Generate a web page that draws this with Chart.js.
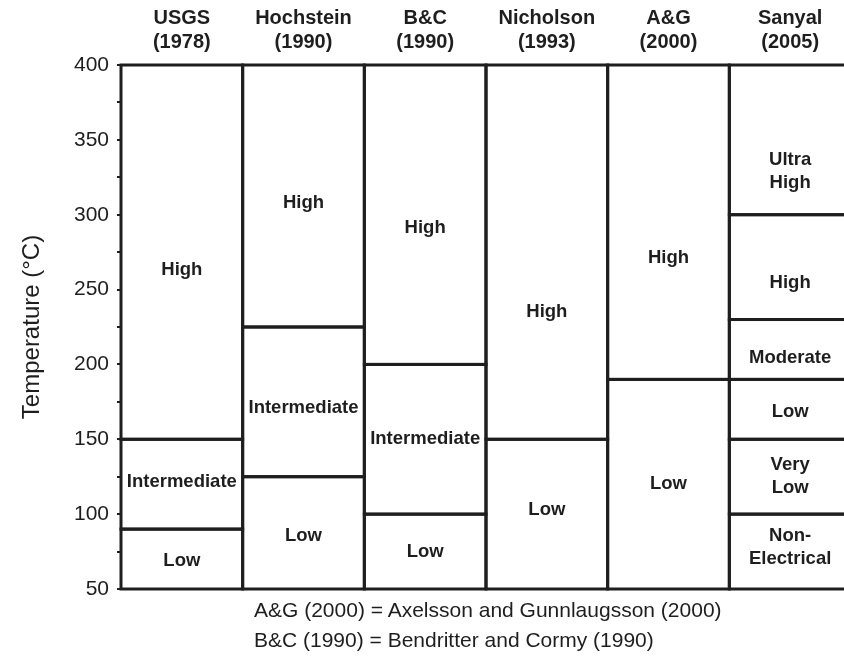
<!DOCTYPE html>
<html>
<head>
<meta charset="utf-8">
<script src="https://cdn.jsdelivr.net/npm/chart.js@4"></script>
<style>
  html, body { margin: 0; padding: 0; background: #fff; overflow: hidden; }
  #wrap { position: relative; width: 860px; height: 662px; }
  .note { position: absolute; left: 254px; font: 21px "Liberation Sans", Arial, sans-serif; color: #1e1e1e; white-space: nowrap; }
</style>
</head>
<body>
<div id="wrap">
  <canvas id="chart" width="860" height="662"></canvas>
  <div class="note" style="top:598px">A&amp;G (2000) = Axelsson and Gunnlaugsson (2000)</div>
  <div class="note" style="top:628px">B&amp;C (1990) = Bendritter and Cormy (1990)</div>
</div>
<script>
// column headers
const sources = ['USGS', 'Hochstein', 'B&C', 'Nicholson', 'A&G', 'Sanyal'];
const years = ['(1978)', '(1990)', '(1990)', '(1993)', '(2000)', '(2005)'];

// class boundaries in degrees C, bottom to top
const usgsBounds = [50, 90, 150, 400];
const hochsteinBounds = [50, 125, 225, 400];
const bcBounds = [50, 100, 200, 400];
const nicholsonBounds = [50, 150, 400];
const agBounds = [50, 190, 400];
const sanyalBounds = [50, 100, 150, 190, 230, 300, 400];

// class names, bottom to top
const usgsClasses = ['Low', 'Intermediate', 'High'];
const hochsteinClasses = ['Low', 'Intermediate', 'High'];
const bcClasses = ['Low', 'Intermediate', 'High'];
const nicholsonClasses = ['Low', 'High'];
const agClasses = ['Low', 'High'];
const sanyalClasses = ['Non-\nElectrical', 'Very\nLow', 'Low', 'Moderate', 'High', 'Ultra\nHigh'];

const yTicks = [50, 100, 150, 200, 250, 300, 350, 400];

const allBounds = [usgsBounds, hochsteinBounds, bcBounds, nicholsonBounds, agBounds, sanyalBounds];
const allClasses = [usgsClasses, hochsteinClasses, bcClasses, nicholsonClasses, agClasses, sanyalClasses];

const FONT = '"Liberation Sans", Arial, sans-serif';
const INK = '#1e1e1e';

// one dataset per level (bottom segment, second segment, ...)
const levels = Math.max(...allClasses.map(c => c.length));
const datasets = [];
for (let i = 0; i < levels; i++) {
    datasets.push({
        data: allBounds.map(b => (i + 1 < b.length ? [b[i], b[i + 1]] : null)),
        classNames: allClasses.map(c => c[i] || null),
        backgroundColor: '#ffffff',
        borderWidth: 0,
        categoryPercentage: 1,
        barPercentage: 1
    });
}

// vertical nudges (px) for the class names, same order as the classes
const labelShift = [[2, -2, 18], [3, 6, 7], [0, 0, 13], [-4, 60], [0, 36], [-4, 0, 3, 8, 16, 32]];

const boxPlugin = {
    id: 'boxes',
    afterDatasetsDraw(chart) {
        const ctx = chart.ctx;
        ctx.save();
        ctx.strokeStyle = INK;
        ctx.lineWidth = 3;
        chart.data.datasets.forEach((ds, di) => {
            chart.getDatasetMeta(di).data.forEach((bar, ci) => {
                if (!ds.data[ci]) return;
                const p = bar.getProps(['x', 'y', 'base', 'width'], true);
                ctx.strokeRect(p.x - p.width / 2, Math.min(p.y, p.base), p.width, Math.abs(p.base - p.y));
            });
        });
        ctx.fillStyle = INK;
        ctx.font = 'bold 18.5px ' + FONT;
        ctx.textAlign = 'center';
        ctx.textBaseline = 'middle';
        chart.data.datasets.forEach((ds, di) => {
            chart.getDatasetMeta(di).data.forEach((bar, ci) => {
                const name = ds.classNames[ci];
                if (!ds.data[ci] || !name) return;
                const p = bar.getProps(['x', 'y', 'base'], true);
                const lines = name.split('\n');
                const cy = (p.y + p.base) / 2 + ((labelShift[ci] || [])[di] || 0);
                lines.forEach((ln, k) => {
                    ctx.fillText(ln, p.x, cy + (k - (lines.length - 1) / 2) * 23);
                });
            });
        });
        ctx.restore();
    }
};

new Chart(document.getElementById('chart'), {
    type: 'bar',
    data: {
        labels: sources.map((s, i) => [s, years[i]]),
        datasets: datasets
    },
    options: {
        responsive: false,
        animation: false,
        layout: { padding: { left: 18, right: 9, top: 0, bottom: 73 } },
        plugins: { legend: { display: false }, tooltip: { enabled: false } },
        scales: {
            x: {
                position: 'top',
                stacked: true,
                grid: { display: false },
                border: { display: false },
                ticks: {
                    color: INK,
                    font: { family: FONT, size: 20, weight: 'bold', lineHeight: 1.2 },
                    padding: 3,
                    maxRotation: 0,
                    autoSkip: false
                },
                afterFit(scale) { scale.height = 65; }
            },
            y: {
                stacked: false,
                min: 50,
                max: 400,
                ticks: {
                    stepSize: 25,
                    color: INK,
                    padding: 8,
                    font: { family: FONT, size: 21 },
                    callback: v => (yTicks.includes(v) ? v : '')
                },
                grid: {
                    drawOnChartArea: false,
                    drawTicks: true,
                    tickLength: 4,
                    color: INK,
                    lineWidth: 2
                },
                border: { display: true, color: INK, width: 3 },
                title: {
                    display: true,
                    text: 'Temperature (°C)',
                    color: INK,
                    font: { family: FONT, size: 24 },
                    padding: { top: 0, bottom: 10 }
                },
                afterFit(scale) { scale.width = 103; }
            }
        }
    },
    plugins: [boxPlugin]
});
</script>
</body>
</html>
